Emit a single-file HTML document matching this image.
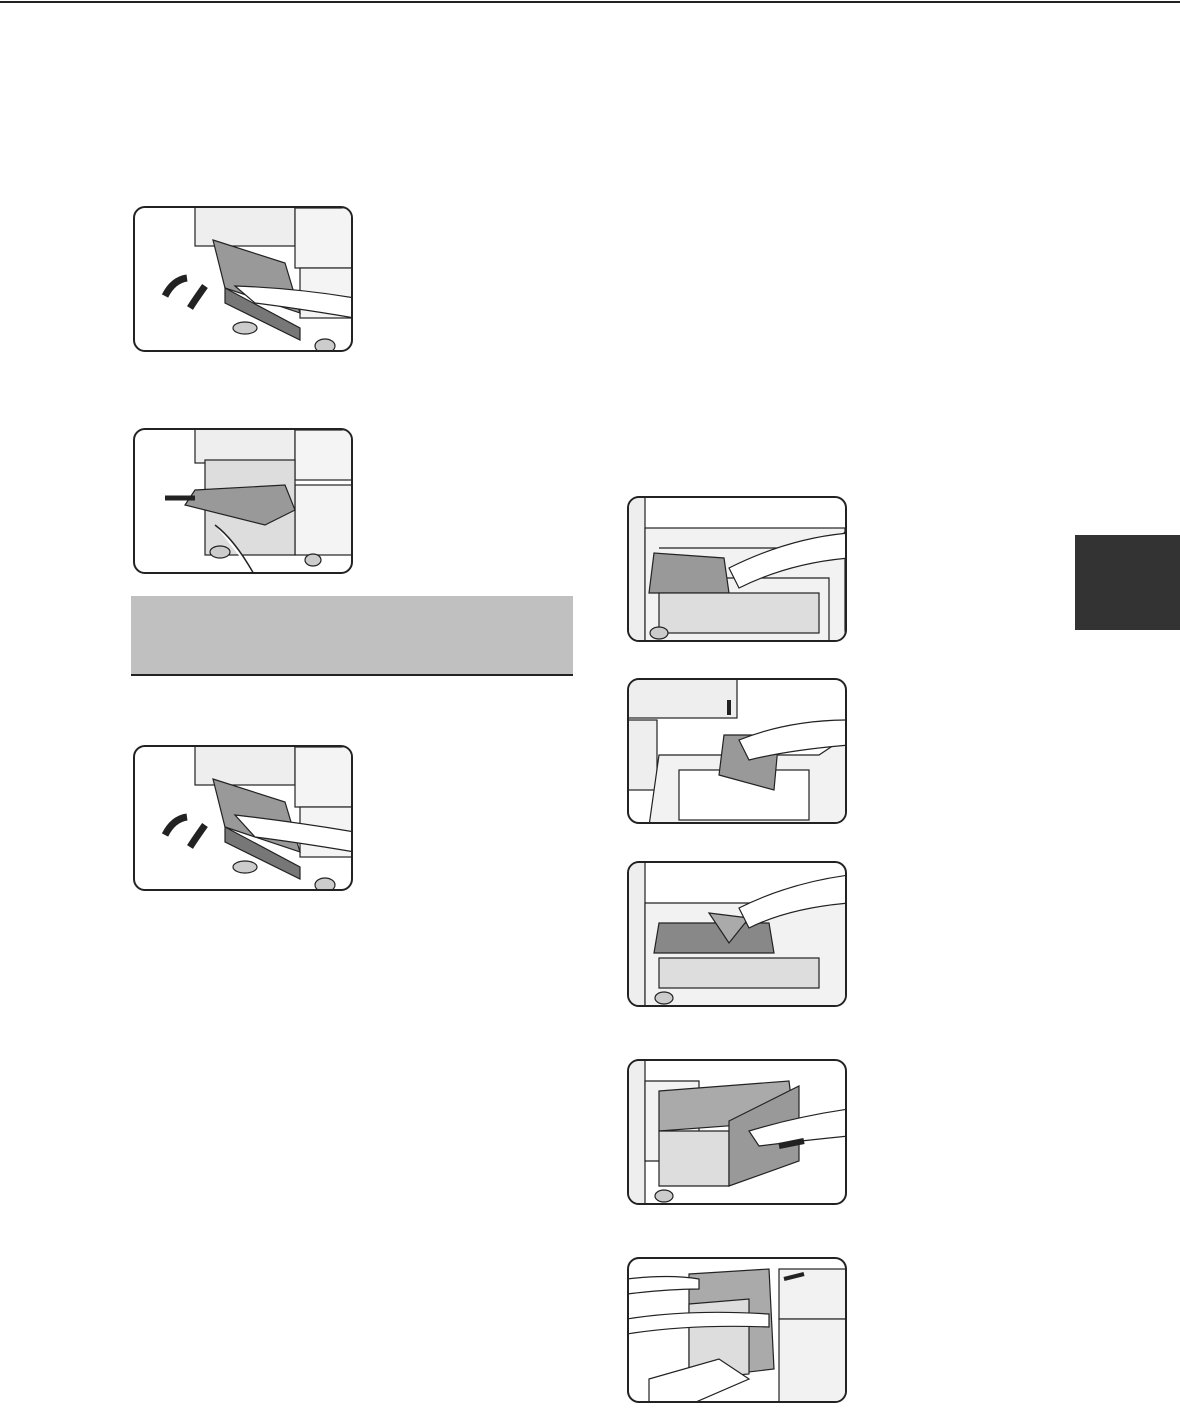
<!DOCTYPE html>
<html><head><meta charset="utf-8"><style>
html,body{margin:0;padding:0;background:#fff}
body{width:1180px;height:1408px;position:relative;overflow:hidden;font-family:"Liberation Sans",sans-serif}
.box{position:absolute;width:220px;height:146px;border:2px solid #222;border-radius:12px;overflow:hidden;background:#fff;box-sizing:border-box}
.box svg{position:absolute;left:0;top:0}
</style></head><body>
<div style="position:absolute;left:0;top:1px;width:1180px;height:2px;background:#222"></div>
<div style="position:absolute;left:1075px;top:535px;width:105px;height:95px;background:#333"></div>
<div style="position:absolute;left:131px;top:596px;width:442px;height:80px;background:#c0c0c0;border-bottom:2px solid #222;box-sizing:border-box"></div>

<!-- left boxes -->
<div class="box" style="left:133px;top:206px">
<svg width="220" height="146"><g stroke="#222" stroke-width="1.2" fill="none">
<rect x="60" y="-2" width="100" height="40" fill="#eee"/><rect x="160" y="0" width="60" height="60" fill="#f4f4f4"/>
<rect x="165" y="60" width="55" height="50" fill="#f4f4f4"/>
<path d="M78 32 L150 55 L165 105 L90 80 Z" fill="#999"/>
<path d="M90 80 L165 120 L165 132 L90 95 Z" fill="#777"/>
<path d="M100 78 Q160 80 220 90 L220 110 Q160 100 120 95 Z" fill="#fff"/>
<ellipse cx="110" cy="120" rx="12" ry="6" fill="#ccc"/><ellipse cx="190" cy="138" rx="10" ry="7" fill="#ccc"/>
<path d="M30 88 Q38 72 52 70" stroke-width="7"/><path d="M70 78 Q60 92 55 100" stroke-width="7"/>
</g></svg></div>

<div class="box" style="left:133px;top:428px">
<svg width="220" height="146"><g stroke="#222" stroke-width="1.2" fill="none">
<rect x="60" y="-2" width="100" height="35" fill="#eee"/><rect x="160" y="0" width="60" height="50" fill="#f4f4f4"/>
<rect x="160" y="55" width="60" height="70" fill="#f4f4f4"/>
<rect x="70" y="30" width="90" height="95" fill="#ddd"/>
<path d="M60 60 L150 55 L160 80 L130 95 L50 75 Z" fill="#999"/>
<path d="M30 68 L60 68" stroke-width="5"/>
<path d="M80 95 Q100 110 120 146" stroke-width="1.5" fill="#fff"/>
<ellipse cx="85" cy="122" rx="10" ry="6" fill="#ccc"/><ellipse cx="178" cy="130" rx="8" ry="6" fill="#ccc"/>
</g></svg></div>

<div class="box" style="left:133px;top:745px">
<svg width="220" height="146"><g stroke="#222" stroke-width="1.2" fill="none">
<rect x="60" y="-2" width="100" height="40" fill="#eee"/><rect x="160" y="0" width="60" height="60" fill="#f4f4f4"/>
<rect x="165" y="60" width="55" height="50" fill="#f4f4f4"/>
<path d="M78 32 L150 55 L165 105 L90 80 Z" fill="#999"/>
<path d="M90 80 L165 120 L165 132 L90 95 Z" fill="#777"/>
<path d="M100 68 Q160 75 220 85 L220 105 Q160 95 120 90 Z" fill="#fff"/>
<ellipse cx="110" cy="120" rx="12" ry="6" fill="#ccc"/><ellipse cx="190" cy="138" rx="10" ry="7" fill="#ccc"/>
<path d="M30 88 Q38 72 52 70" stroke-width="7"/><path d="M70 78 Q60 92 55 100" stroke-width="7"/>
</g></svg></div>

<!-- right boxes -->
<div class="box" style="left:627px;top:496px">
<svg width="220" height="146"><g stroke="#222" stroke-width="1.2" fill="none">
<rect x="-2" y="-2" width="18" height="150" fill="#eee"/>
<rect x="16" y="30" width="200" height="115" fill="#f2f2f2"/>
<path d="M30 50 L200 50 L220 30" />
<path d="M30 80 L200 80 L200 146"/>
<path d="M20 110 L100 110 L95 75 L25 70 Z" fill="#999" transform="translate(0,-15)"/>
<path d="M100 70 Q160 40 220 35 L220 60 Q160 65 110 90 Z" fill="#fff"/>
<rect x="30" y="95" width="160" height="40" fill="#ddd"/>
<ellipse cx="30" cy="135" rx="9" ry="6" fill="#ccc"/>
</g></svg></div>

<div class="box" style="left:627px;top:678px">
<svg width="220" height="146"><g stroke="#222" stroke-width="1.2" fill="none">
<rect x="-2" y="-2" width="110" height="40" fill="#eee"/>
<rect x="-2" y="40" width="30" height="70" fill="#eee"/>
<path d="M30 75 L190 75 L220 55 L220 146 L20 146 Z" fill="#f2f2f2"/>
<rect x="50" y="90" width="130" height="50" fill="#fff"/>
<path d="M95 55 L150 55 L145 110 L90 95 Z" fill="#999"/>
<path d="M110 60 Q160 40 220 40 L220 65 Q160 70 120 80 Z" fill="#fff"/>
<path d="M100 35 L100 20" stroke-width="4"/>
</g></svg></div>

<div class="box" style="left:627px;top:861px">
<svg width="220" height="146"><g stroke="#222" stroke-width="1.2" fill="none">
<rect x="-2" y="-2" width="18" height="150" fill="#eee"/>
<path d="M16 40 L200 40 L220 20 L220 146 L16 146 Z" fill="#f2f2f2"/>
<path d="M30 60 L140 60 L145 90 L25 90 Z" fill="#888"/>
<path d="M80 50 L120 55 L100 80 Z" fill="#aaa"/>
<path d="M110 45 Q160 20 220 12 L220 40 Q160 45 120 65 Z" fill="#fff"/>
<rect x="30" y="95" width="160" height="30" fill="#ddd"/>
<ellipse cx="35" cy="135" rx="9" ry="6" fill="#ccc"/>
</g></svg></div>

<div class="box" style="left:627px;top:1059px">
<svg width="220" height="146"><g stroke="#222" stroke-width="1.2" fill="none">
<rect x="-2" y="-2" width="18" height="150" fill="#eee"/>
<path d="M16 20 L70 20 L70 100 L16 100 Z" fill="#f2f2f2"/>
<path d="M30 30 L160 20 L165 60 L30 70 Z" fill="#aaa"/>
<path d="M30 70 L100 70 L100 125 L30 125 Z" fill="#ddd"/>
<path d="M100 60 L170 25 L170 100 L100 125 Z" fill="#999"/>
<path d="M120 70 Q170 55 220 48 L220 75 Q170 80 130 85 Z" fill="#fff"/>
<path d="M150 85 L175 80" stroke-width="6"/>
<ellipse cx="35" cy="135" rx="9" ry="6" fill="#ccc"/>
</g></svg></div>

<div class="box" style="left:627px;top:1257px">
<svg width="220" height="146"><g stroke="#222" stroke-width="1.2" fill="none">
<rect x="150" y="10" width="70" height="50" fill="#f2f2f2"/>
<rect x="150" y="60" width="70" height="90" fill="#f2f2f2"/>
<path d="M60 15 L140 10 L145 110 L60 120 Z" fill="#aaa"/>
<path d="M60 45 L120 40 L120 115 L60 120 Z" fill="#ddd"/>
<path d="M20 120 L90 100 L120 120 L60 146 L20 146 Z" fill="#fff"/>
<path d="M-2 20 Q40 15 70 20 L70 30 Q40 30 -2 35 Z" fill="#fff"/>
<path d="M-2 60 Q60 50 140 55 L140 68 Q60 65 -2 75 Z" fill="#fff"/>
<path d="M155 20 L175 15" stroke-width="4"/>
</g></svg></div>
</body></html>
